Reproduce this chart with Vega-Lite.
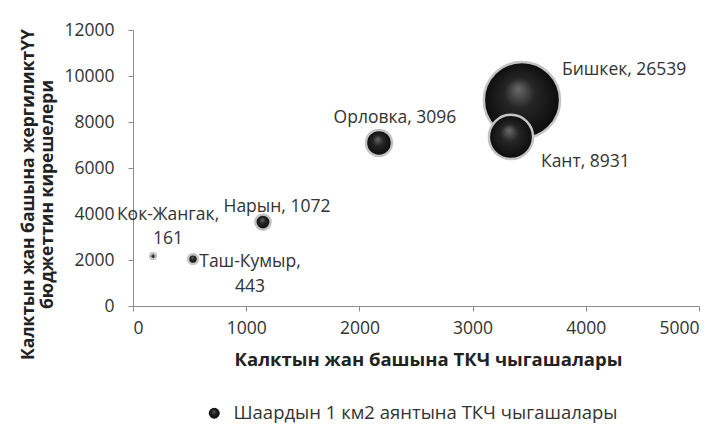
{
  "$schema": "https://vega.github.io/schema/vega-lite/v6.json",
  "width": 566,
  "height": 276,
  "autosize": {"type": "none"},
  "padding": {"left": 133, "top": 30, "right": 23, "bottom": 123},
  "background": "white",
  "config": {
    "view": {"stroke": null},
    "font": "Open Sans",
    "axis": {
      "grid": false,
      "domainColor": "#8c8c8c",
      "tickColor": "#8c8c8c",
      "tickSize": 5,
      "labelColor": "#333333",
      "labelFont": "Open Sans",
      "labelFontSize": 17.5,
      "titleFont": "Open Sans",
      "titleFontSize": 17.5,
      "titleFontWeight": "bold",
      "titleColor": "#222222",
      "format": "d"
    },
    "text": {"font": "Open Sans", "fontSize": 17.5, "color": "#333333"}
  },
  "data": {
    "values": [
      {"city": "Бишкек", "x": 3436, "y": 8950, "size": 26539, "label": "Бишкек, 26539", "series": "Шаардын 1 км2 аянтына ТКЧ чыгашалары"},
      {"city": "Кант", "x": 3339, "y": 7350, "size": 8931, "label": "Кант, 8931", "series": "Шаардын 1 км2 аянтына ТКЧ чыгашалары"},
      {"city": "Орловка", "x": 2173, "y": 7090, "size": 3096, "label": "Орловка, 3096", "series": "Шаардын 1 км2 аянтына ТКЧ чыгашалары"},
      {"city": "Нарын", "x": 1148, "y": 3650, "size": 1072, "label": "Нарын, 1072", "series": "Шаардын 1 км2 аянтына ТКЧ чыгашалары"},
      {"city": "Кок-Жангак", "x": 177, "y": 2170, "size": 161, "label": "Кок-Жангак,|161", "series": "Шаардын 1 км2 аянтына ТКЧ чыгашалары"},
      {"city": "Таш-Кумыр", "x": 530, "y": 2040, "size": 443, "label": "Таш-Кумыр,|443", "series": "Шаардын 1 км2 аянтына ТКЧ чыгашалары"}
    ]
  },
  "encoding": {
    "x": {
      "field": "x", "type": "quantitative",
      "scale": {"domain": [0, 5000], "nice": false},
      "axis": {"values": [0, 1000, 2000, 3000, 4000, 5000], "format": "d", "title": "Калктын жан башына ТКЧ чыгашалары", "titleFontSize": 18.5, "labelPadding": 8, "titlePadding": 14, "titleX": 295}
    },
    "y": {
      "field": "y", "type": "quantitative",
      "scale": {"domain": [0, 12000], "nice": false},
      "axis": {"values": [0, 2000, 4000, 6000, 8000, 10000, 12000], "format": "d", "title": ["Калктын жан башына жергиликтҮҮ", "бюджеттин кирешелери"], "labelPadding": 14, "titleY": 164, "titleX": -96}
    }
  },
  "layer": [
    {
      "mark": {
        "type": "point", "filled": true, "opacity": 1,
        "fill": {"gradient": "radial", "x1": 0.45, "y1": 0.35, "r1": 0, "x2": 0.5, "y2": 0.5, "r2": 0.5,
          "stops": [{"offset": 0, "color": "#6a6a6a"}, {"offset": 0.4, "color": "#252525"}, {"offset": 1, "color": "#0c0c0c"}]},
        "stroke": "#c4c4c4", "strokeWidth": 2.5
      },
      "encoding": {
        "size": {"field": "size", "type": "quantitative", "scale": {"type": "linear", "domain": [0, 26539], "range": [0, 5809], "zero": true}, "legend": null},
        "shape": {"field": "series", "type": "nominal", "scale": {"range": ["circle"]},
          "legend": {"title": null, "orient": "none", "legendX": 72, "legendY": 374, "symbolSize": 120, "symbolFillColor": "#1a1a1a", "symbolStrokeColor": "#aaaaaa", "symbolStrokeWidth": 2, "labelFontSize": 18.5, "labelColor": "#333333", "labelFont": "Open Sans", "labelOffset": 10, "labelLimit": 0}},
        "order": {"field": "size", "type": "quantitative", "sort": "descending"}
      }
    },
    {
      "transform": [{"filter": "datum.city === 'Бишкек'"}],
      "mark": {"type": "text", "align": "left", "baseline": "middle", "dx": 40, "dy": -30},
      "encoding": {"text": {"field": "label"}}
    },
    {
      "transform": [{"filter": "datum.city === 'Кант'"}],
      "mark": {"type": "text", "align": "left", "baseline": "middle", "dx": 30, "dy": 25},
      "encoding": {"text": {"field": "label"}}
    },
    {
      "transform": [{"filter": "datum.city === 'Орловка'"}],
      "mark": {"type": "text", "align": "center", "baseline": "middle", "dx": 16, "dy": -25},
      "encoding": {"text": {"field": "label"}}
    },
    {
      "transform": [{"filter": "datum.city === 'Нарын'"}],
      "mark": {"type": "text", "align": "center", "baseline": "middle", "dx": 14, "dy": -15},
      "encoding": {"text": {"field": "label"}}
    },
    {
      "transform": [{"filter": "datum.city === 'Кок-Жангак'"}],
      "mark": {"type": "text", "align": "center", "baseline": "middle", "dx": 15, "dy": -41, "lineBreak": "|", "lineHeight": 24},
      "encoding": {"text": {"field": "label"}}
    },
    {
      "transform": [{"filter": "datum.city === 'Таш-Кумыр'"}],
      "mark": {"type": "text", "align": "center", "baseline": "middle", "dx": 57, "dy": 3, "lineBreak": "|", "lineHeight": 25},
      "encoding": {"text": {"field": "label"}}
    }
  ]
}
